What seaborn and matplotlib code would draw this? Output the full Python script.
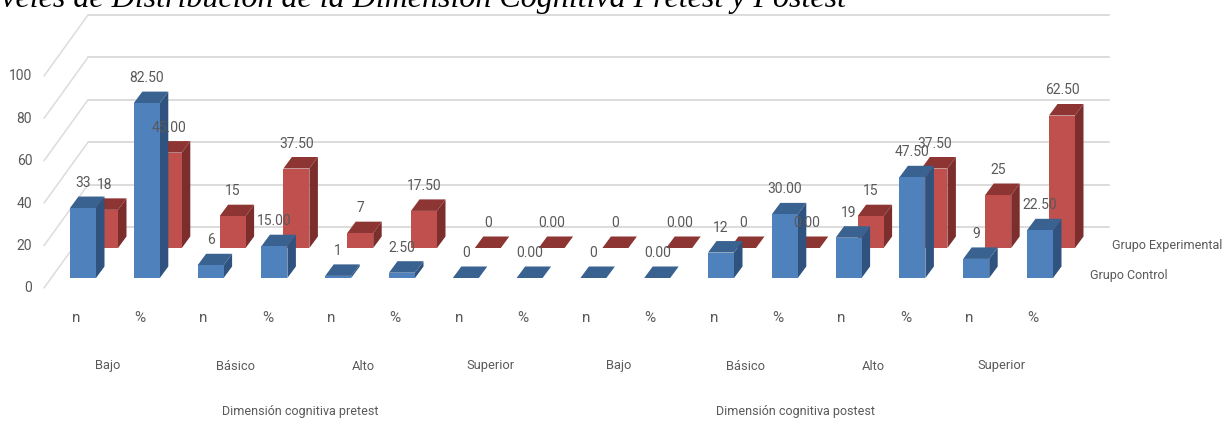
import numpy as np
import pandas as pd
import matplotlib
matplotlib.use("Agg")
import matplotlib.pyplot as plt
from matplotlib.patches import Polygon
from matplotlib.transforms import ScaledTranslation
import seaborn as sns

levels = ["Bajo", "Básico", "Alto", "Superior", "Bajo", "Básico", "Alto", "Superior"]
measures = ["n", "%"]
control = [33, 82.50, 6, 15.00, 1, 2.50, 0, 0.00, 0, 0.00, 12, 30.00, 19, 47.50, 9, 22.50]
experimental = [18, 45.00, 15, 37.50, 7, 17.50, 0, 0.00, 0, 0.00, 0, 0.00, 15, 37.50, 25, 62.50]
groups = ["Grupo Experimental", "Grupo Control"]
dimensions = ["Dimensión cognitiva pretest", "Dimensión cognitiva postest"]
title = "Niveles de Distribución de la Dimensión Cognitiva Pretest y Postest"

W, H = 1225, 422
PX_X, PX_Y = 63.8, 2.12      # pixels per category / per value unit
X0, Y0 = 83, 278             # pixel of first bar centre and of the baseline
LEFT = 44
GREY = "#595959"
FS = 10
FS_LONG = 9
FONT = ["Roboto", "DejaVu Sans"]

def xd(px):
    return (px - X0) / PX_X

def yd(py):
    return (Y0 - py) / PX_Y

sns.set_theme(style="white")
plt.rcParams["font.family"] = FONT

cats = [f"{lv} {m} {i}" for i, lv in enumerate(levels) for m in measures]
df = pd.DataFrame({
    "cat": cats * 2,
    "val": experimental + control,
    "grupo": [groups[0]] * 16 + [groups[1]] * 16,
})

fig = plt.figure(figsize=(W / 100, H / 100), dpi=100)
ax = fig.add_axes([LEFT / W, (H - Y0) / H, (W - LEFT) / W, Y0 / H])
ax.patch.set_alpha(0)

sns.barplot(data=df, x="cat", y="val", hue="grupo", hue_order=groups, order=cats,
            dodge=False, width=26 / PX_X, errorbar=None, saturation=1, legend=False,
            palette={groups[0]: "#C0504D", groups[1]: "#4F81BD"}, linewidth=0, ax=ax)

ax.set_xlim(xd(LEFT), xd(W))
ax.set_ylim(0, yd(0))
ax.set_xlabel("")
ax.set_ylabel("")
sns.despine(ax=ax, left=True, bottom=True, right=True, top=True)

# wall and side gridlines of the 3-D box
yticks = [0, 20, 40, 60, 80, 100]
grid_c = "#DCDCDC"
for t in yticks:
    back = t + yd(227)
    front = t + yd(288)
    ax.plot([xd(88), xd(1109)], [back, back], color=grid_c, lw=1.4, zorder=0.5, clip_on=False)
    ax.plot([xd(44), xd(88)], [front, back], color=grid_c, lw=1.1, zorder=0.5, clip_on=False)

# depth faces
DX, DY = 8.5 / PX_X, 11.5 / PX_Y
SHIFT_X, SHIFT_Y = 22 / PX_X, 30 / PX_Y
styles = [("#7B2E2C", "#8C3533", 2), ("#2F527F", "#3A6290", 3)]
texts_vals = [experimental, control]
for cont, (side_c, top_c, z), vals in zip(ax.containers, styles, texts_vals):
    shifted = z == 2
    for i, (bar, v) in enumerate(zip(cont.patches, vals)):
        if shifted:
            bar.set_x(bar.get_x() + SHIFT_X)
            bar.set_y(bar.get_y() + SHIFT_Y)
        x, y, w, h = bar.get_x(), bar.get_y(), bar.get_width(), bar.get_height()
        bar.set_zorder(z + 0.2)
        bar.set_clip_on(False)
        if h > 0:
            ax.add_patch(Polygon([(x + w, y), (x + w + DX, y + DY), (x + w + DX, y + h + DY), (x + w, y + h)],
                                 closed=True, fc=side_c, ec="none", zorder=z, clip_on=False))
        ax.add_patch(Polygon([(x, y + h), (x + DX, y + h + DY), (x + w + DX, y + h + DY), (x + w, y + h)],
                             closed=True, fc=top_c, ec="none", zorder=z + 0.1, clip_on=False))
        label = f"{v:.2f}" if i % 2 else f"{v:.0f}"
        ax.text(x + w / 2, y + h + 25 / PX_Y, label, ha="center", va="center", color=GREY,
                fontsize=FS, zorder=6, clip_on=False)

# axes labels
ax.set_yticks(yticks)
ax.set_yticklabels([str(t) for t in yticks])
ax.set_xticks(range(len(cats)))
ax.set_xticklabels(measures * len(levels))
ax.tick_params(axis="y", length=0, pad=8.5, labelcolor=GREY, labelsize=FS)
ax.tick_params(axis="x", length=0, pad=23.5, labelcolor=GREY, labelsize=11)
yoff = ScaledTranslation(0, -9 / 100, fig.dpi_scale_trans)
for lab in ax.get_yticklabels():
    lab.set_transform(lab.get_transform() + yoff)
xoff = ScaledTranslation(-7 / 100, 0, fig.dpi_scale_trans)
for lab in ax.get_xticklabels():
    lab.set_transform(lab.get_transform() + xoff)

for i, lv in enumerate(levels):
    ax.text(2 * i + 0.5 - 7 / PX_X, yd(366), lv, ha="center", va="center", color=GREY, fontsize=FS_LONG + 0.3, clip_on=False)
for center, d in zip([300, 795], dimensions):
    ax.text(xd(center), yd(411), d, ha="center", va="center", color=GREY, fontsize=FS_LONG, clip_on=False)

# series names at the end of the depth axis
ax.text(xd(1222), yd(245), groups[0], ha="right", va="center", color=GREY, fontsize=FS_LONG, clip_on=False)
ax.text(xd(1168), yd(275), groups[1], ha="right", va="center", color=GREY, fontsize=FS_LONG, clip_on=False)

fig.text(846 / W, 1 - 7 / H, title, ha="right", va="baseline", family=["Liberation Serif"],
         style="italic", fontsize=23, color="black")

fig.savefig("out.png", dpi=100)
